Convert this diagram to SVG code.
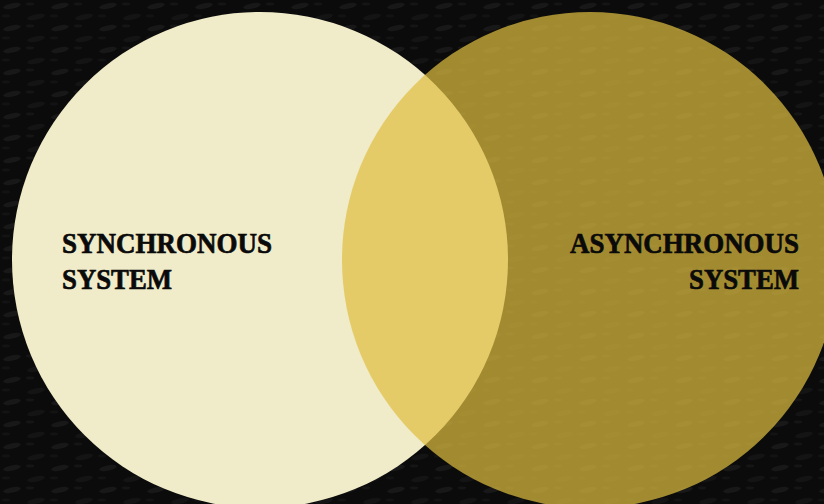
<svg xmlns="http://www.w3.org/2000/svg" width="824" height="504" viewBox="0 0 824 504">
  <defs>
    <pattern id="weave" width="48" height="22" patternUnits="userSpaceOnUse">
      <rect width="48" height="22" fill="#0b0b0b"/>
      <ellipse cx="12" cy="6" rx="9" ry="2.6" fill="#2a2a2a" opacity="0.4" transform="rotate(-12 12 6)"/>
      <ellipse cx="36" cy="17" rx="9" ry="2.6" fill="#262626" opacity="0.35" transform="rotate(-12 36 17)"/>
      <ellipse cx="30" cy="4" rx="4" ry="1.4" fill="#333" opacity="0.25"/>
      <ellipse cx="6" cy="16" rx="4" ry="1.4" fill="#333" opacity="0.2"/>
    </pattern>
  </defs>
  <style>
    .label { font-family: "Liberation Serif", "DejaVu Serif", serif; font-weight: bold; font-size: 30px; fill: #0a0a0a; stroke: #0a0a0a; stroke-width: 0.7; }
    .left-fill { fill: #F0EBC8; }
    .right-fill { fill: #E0BE40; fill-opacity: 0.71; }
  </style>
  <rect id="background" width="824" height="504" fill="url(#weave)"/>
  <g id="synchronous">
    <circle class="left-fill" cx="260" cy="260" r="248"/>
    <text class="label" x="62" y="253" textLength="210" lengthAdjust="spacingAndGlyphs">SYNCHRONOUS</text>
    <text class="label" x="62" y="289" textLength="110" lengthAdjust="spacingAndGlyphs">SYSTEM</text>
  </g>
  <g id="asynchronous">
    <circle class="right-fill" cx="590" cy="260" r="248"/>
    <text class="label" x="570" y="253" textLength="229" lengthAdjust="spacingAndGlyphs">ASYNCHRONOUS</text>
    <text class="label" x="689" y="289" textLength="110" lengthAdjust="spacingAndGlyphs">SYSTEM</text>
  </g>
</svg>
